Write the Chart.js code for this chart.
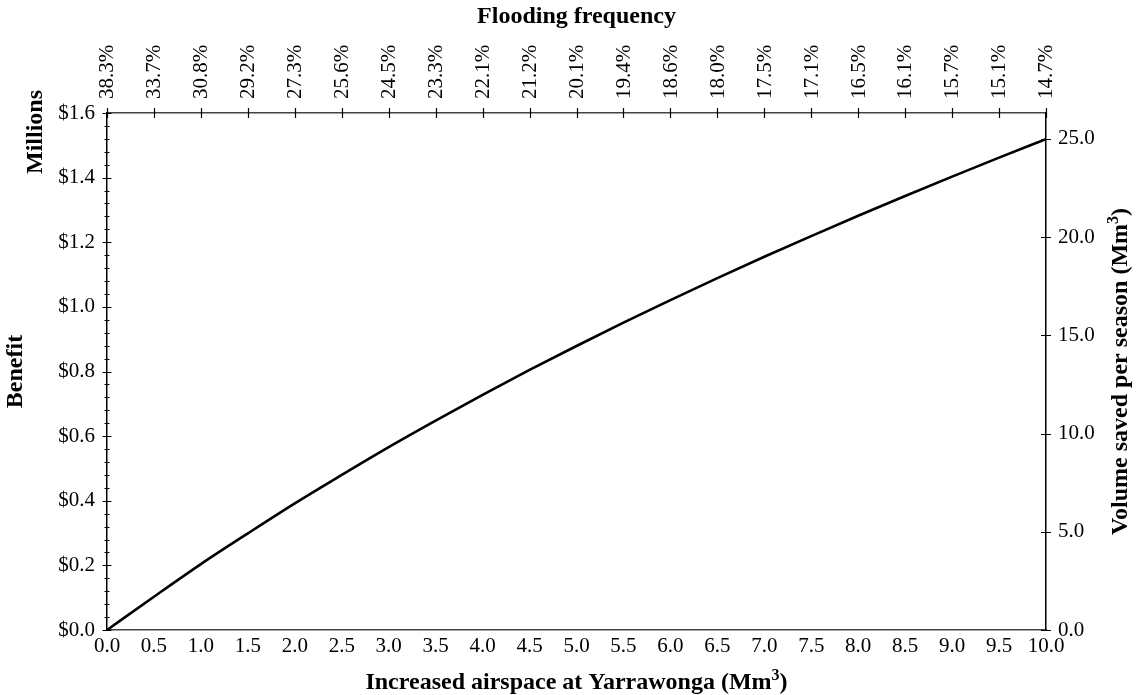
<!DOCTYPE html>
<html>
<head>
<meta charset="utf-8">
<script src="https://cdn.jsdelivr.net/npm/chart.js"></script>
<style>
  html, body { margin: 0; padding: 0; background: #fff; }
  #wrap { width: 1139px; height: 695px; position: relative; }
</style>
</head>
<body>
<div id="wrap"><canvas id="chart"></canvas></div>
<script>
// airspace (Mm3) on the bottom axis
const airspace = [0.0, 0.5, 1.0, 1.5, 2.0, 2.5, 3.0, 3.5, 4.0, 4.5, 5.0,
                  5.5, 6.0, 6.5, 7.0, 7.5, 8.0, 8.5, 9.0, 9.5, 10.0];
// benefit, $ millions
const benefit = [0.000, 0.103, 0.204, 0.299, 0.392, 0.480, 0.566, 0.648, 0.728, 0.805, 0.879,
                 0.951, 1.021, 1.089, 1.155, 1.219, 1.282, 1.343, 1.403, 1.462, 1.519];
// flooding frequency labels for the top axis
const floodLabels = ['38.3%', '33.7%', '30.8%', '29.2%', '27.3%', '25.6%', '24.5%',
                     '23.3%', '22.1%', '21.2%', '20.1%', '19.4%', '18.6%', '18.0%',
                     '17.5%', '17.1%', '16.5%', '16.1%', '15.7%', '15.1%', '14.7%'];

const serif = 'Liberation Serif';
const tickFont = { family: serif, size: 21 };
const titleFont = 'bold 24px "' + serif + '"';
const supFont = 'bold 16px "' + serif + '"';

// draws "base" + superscript + "tail" centred on (0, 0) of the current frame
function supText(ctx, base, sup, tail) {
    ctx.font = titleFont;
    const wb = ctx.measureText(base).width;
    const wt = ctx.measureText(tail).width;
    ctx.font = supFont;
    const ws = ctx.measureText(sup).width;
    let x = -(wb + ws + wt) / 2;
    ctx.textAlign = 'left';
    ctx.font = titleFont;
    ctx.fillText(base, x, 0);
    ctx.font = supFont;
    ctx.fillText(sup, x + wb, -7);
    ctx.font = titleFont;
    ctx.fillText(tail, x + wb + ws, 0);
    ctx.textAlign = 'center';
}

// tick marks crossing the axis lines + the axis titles
const axisExtras = {
    id: 'axisExtras',
    afterDraw(chart) {
        const { ctx, chartArea: a, scales } = chart;
        ctx.save();
        ctx.strokeStyle = '#000';
        ctx.lineWidth = 1.2;
        ctx.beginPath();
        scales.x2.ticks.forEach(t => {
            const px = Math.round(scales.x2.getPixelForValue(t.value)) + 0.5;
            ctx.moveTo(px, a.top - 5);
            ctx.lineTo(px, a.top + 5);
        });
        scales.y.ticks.forEach(t => {
            const py = Math.round(scales.y.getPixelForValue(t.value)) + 0.5;
            const len = t.label ? 4.5 : 2.5;
            ctx.moveTo(a.left - len, py);
            ctx.lineTo(a.left + len, py);
        });
        scales.y2.ticks.forEach(t => {
            if (!t.label) return;
            const py = Math.round(scales.y2.getPixelForValue(t.value)) + 0.5;
            ctx.moveTo(a.right - 5, py);
            ctx.lineTo(a.right + 5, py);
        });
        ctx.stroke();

        ctx.fillStyle = '#000';
        ctx.textAlign = 'center';
        ctx.textBaseline = 'middle';
        ctx.font = titleFont;
        const cx = (a.left + a.right) / 2;
        const cy = (a.top + a.bottom) / 2;
        ctx.fillText('Flooding frequency', cx, 17);

        ctx.save();
        ctx.translate(cx, 683);
        supText(ctx, 'Increased airspace at Yarrawonga (Mm', '3', ')');
        ctx.restore();

        const vertical = (x, y, draw) => {
            ctx.save();
            ctx.translate(x, y);
            ctx.rotate(-Math.PI / 2);
            draw();
            ctx.restore();
        };
        ctx.font = titleFont;
        vertical(36, 132, () => ctx.fillText('Millions', 0, 0));
        vertical(16, cy, () => ctx.fillText('Benefit', 0, 0));
        vertical(1121, cy, () => supText(ctx, 'Volume saved per season (Mm', '3', ')'));
        ctx.restore();
    }
};

new Chart(document.getElementById('chart'), {
    type: 'line',
    data: {
        datasets: [{
            label: 'Benefit',
            data: airspace.map((x, i) => ({ x: x, y: benefit[i] })),
            borderColor: '#000',
            borderWidth: 2.6,
            pointRadius: 0,
            cubicInterpolationMode: 'monotone',
            fill: false,
            xAxisID: 'x',
            yAxisID: 'y',
        }],
    },
    options: {
        responsive: true,
        maintainAspectRatio: false,
        animation: false,
        layout: { padding: 0 },
        plugins: {
            legend: { display: false },
            tooltip: { enabled: false },
        },
        scales: {
            x: {
                type: 'linear',
                position: 'bottom',
                min: 0,
                max: 10,
                grid: { display: false, drawTicks: false },
                border: { display: true, color: '#444', width: 1.5 },
                ticks: {
                    stepSize: 0.5,
                    autoSkip: false,
                    maxRotation: 0,
                    padding: 4,
                    color: '#000',
                    font: tickFont,
                    callback: v => v.toFixed(1),
                },
                afterFit: s => { s.height = 65; },
            },
            x2: {
                type: 'linear',
                position: 'top',
                min: 0,
                max: 10,
                grid: { display: false, drawTicks: false },
                border: { display: true, color: '#444', width: 1.5 },
                ticks: {
                    stepSize: 0.5,
                    autoSkip: false,
                    minRotation: 90,
                    maxRotation: 90,
                    padding: 14,
                    labelOffset: 26,
                    color: '#000',
                    font: tickFont,
                    callback: (v, i) => floodLabels[i],
                },
                afterFit: s => { s.height = 113; },
            },
            y: {
                type: 'linear',
                position: 'left',
                min: 0,
                max: 1.6,
                grid: { display: false, drawTicks: false },
                border: { display: true, color: '#000', width: 1.5 },
                ticks: {
                    stepSize: 0.04,
                    autoSkip: false,
                    padding: 12,
                    color: '#000',
                    font: tickFont,
                    callback: v => {
                        const k = v / 0.2;
                        return Math.abs(k - Math.round(k)) < 1e-6 ? '$' + v.toFixed(1) : '';
                    },
                },
                afterFit: s => { s.width = 107; },
            },
            y2: {
                type: 'linear',
                position: 'right',
                min: 0,
                max: 26.32,
                grid: { display: false, drawTicks: false },
                border: { display: true, color: '#000', width: 1.5 },
                ticks: {
                    stepSize: 5,
                    autoSkip: false,
                    padding: 12,
                    color: '#000',
                    font: tickFont,
                    callback: v => (Math.abs(v % 5) < 1e-6 ? v.toFixed(1) : ''),
                },
                afterFit: s => { s.width = 93; },
            },
        },
    },
    plugins: [axisExtras],
});
</script>
</body>
</html>
